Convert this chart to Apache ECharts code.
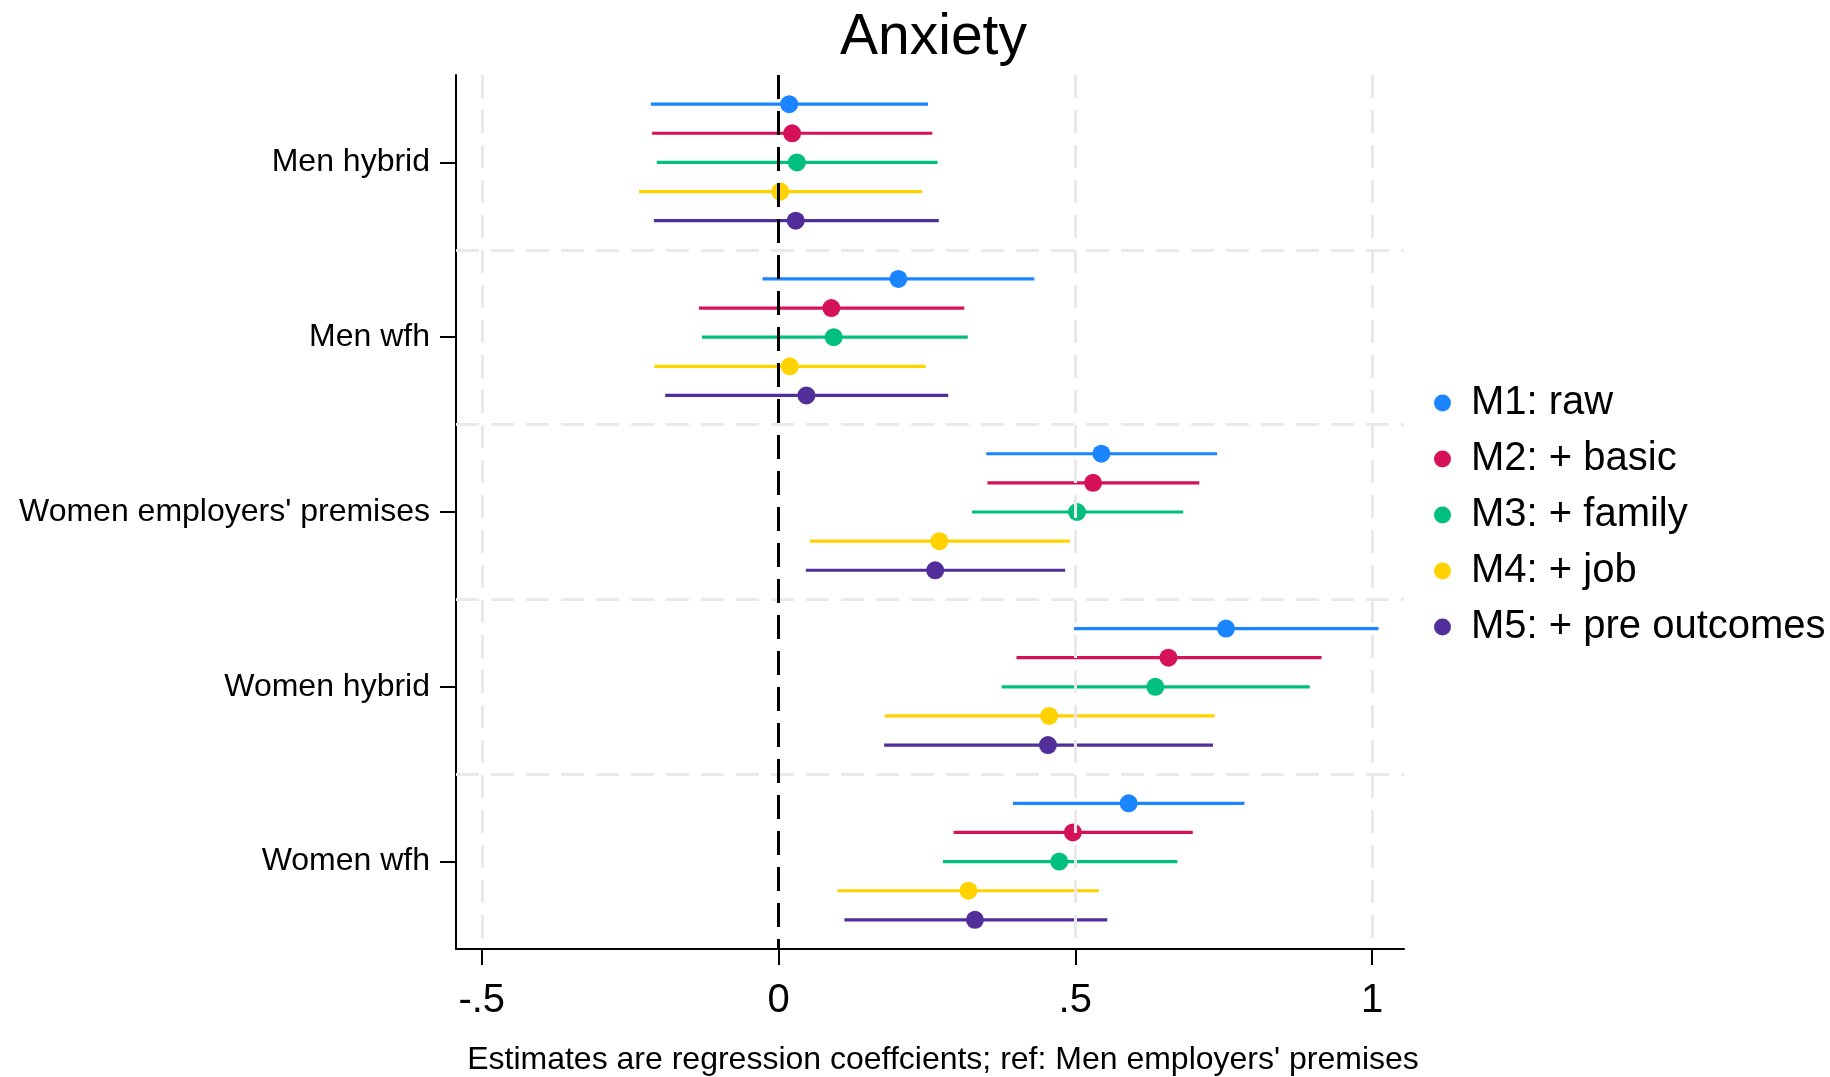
<!DOCTYPE html>
<html><head><meta charset="utf-8">
<script src="https://cdn.jsdelivr.net/npm/echarts@6/dist/echarts.min.js"></script>
<style>html,body{margin:0;padding:0;background:#fff}#c{width:1830px;height:1077px}</style>
</head><body><div id="c"></div>
<script>
const categories = ["Men hybrid", "Men wfh", "Women employers' premises", "Women hybrid", "Women wfh"];
const models = ["M1: raw", "M2: + basic", "M3: + family", "M4: + job", "M5: + pre outcomes"];
const modelColors = ["#1a85ff", "#d41159", "#00bf7f", "#ffd200", "#512e9a"];

// point estimates and 95% CI bounds, one entry per category (in categories order)
const m1Est = [0.018, 0.202, 0.544, 0.754, 0.590];
const m1Lo  = [-0.215, -0.027, 0.350, 0.498, 0.395];
const m1Hi  = [0.252, 0.431, 0.739, 1.011, 0.785];

const m2Est = [0.023, 0.089, 0.530, 0.657, 0.496];
const m2Lo  = [-0.213, -0.134, 0.352, 0.401, 0.295];
const m2Hi  = [0.259, 0.313, 0.709, 0.915, 0.698];

const m3Est = [0.031, 0.093, 0.503, 0.635, 0.473];
const m3Lo  = [-0.205, -0.129, 0.326, 0.376, 0.277];
const m3Hi  = [0.268, 0.319, 0.682, 0.895, 0.672];

const m4Est = [0.003, 0.019, 0.271, 0.456, 0.320];
const m4Lo  = [-0.235, -0.209, 0.053, 0.179, 0.099];
const m4Hi  = [0.242, 0.248, 0.491, 0.735, 0.540];

const m5Est = [0.029, 0.047, 0.264, 0.454, 0.331];
const m5Lo  = [-0.210, -0.191, 0.046, 0.178, 0.111];
const m5Hi  = [0.270, 0.286, 0.483, 0.732, 0.554];

const xTicks = [-0.5, 0, 0.5, 1];
const xTickLabels = ["-.5", "0", ".5", "1"];
const xGridLines = [-0.5, 0.5, 1];
const xAxisTitle = "Estimates are regression coeffcients; ref: Men employers' premises";
const chartTitle = "Anxiety";

const estAll = [m1Est, m2Est, m3Est, m4Est, m5Est];
const loAll = [m1Lo, m2Lo, m3Lo, m4Lo, m5Lo];
const hiAll = [m1Hi, m2Hi, m3Hi, m4Hi, m5Hi];

// row layout: each category block has 6 slots, models sit at slot 1..5
const rowOf = (g, m) => g * 6 + 1 + m;
const catPos = categories.map((c, g) => g * 6 + 3);
const sepPos = [6, 12, 18, 24];

const FONT = "'Liberation Sans', Arial, sans-serif";
const chart = echarts.init(document.getElementById('c'), null, {renderer: 'canvas'});

const series = [];
// gridlines
series.push({
  type: 'line', data: [], silent: true, z: 0,
  markLine: {
    silent: true, symbol: 'none', label: {show: false}, animation: false,
    lineStyle: {color: '#e9e9e9', width: 3, type: [23, 12]},
    data: xGridLines.map(v => ({xAxis: v})).concat(sepPos.map(v => ({yAxis: v})))
  }
});
// CI lines
models.forEach((name, m) => {
  series.push({
    type: 'custom', name: name, z: 1, silent: true,
    encode: {x: [0, 1], y: 2},
    data: categories.map((c, g) => [loAll[m][g], hiAll[m][g], rowOf(g, m)]),
    itemStyle: {color: modelColors[m]},
    renderItem: function (params, api) {
      const a = api.coord([api.value(0), api.value(2)]);
      const b = api.coord([api.value(1), api.value(2)]);
      return {type: 'line', shape: {x1: a[0], y1: a[1], x2: b[0], y2: b[1]},
              style: {stroke: modelColors[m], lineWidth: 3.2}};
    }
  });
});
// zero reference line
series.push({
  type: 'line', data: [], silent: true, z: 2,
  markLine: {
    silent: true, symbol: 'none', label: {show: false}, animation: false,
    lineStyle: {color: '#000', width: 3, type: [24, 12]},
    data: [{xAxis: 0}]
  }
});
// point estimates
models.forEach((name, m) => {
  series.push({
    type: 'scatter', name: name, z: 3,
    symbol: 'circle', symbolSize: 18,
    itemStyle: {color: modelColors[m], opacity: 1},
    data: categories.map((c, g) => [estAll[m][g], rowOf(g, m)])
  });
});

chart.setOption({
  animation: false,
  backgroundColor: '#fff',
  textStyle: {fontFamily: FONT},
  title: {
    text: chartTitle, left: 835, top: 5,
    textStyle: {fontSize: 57, fontWeight: 'normal', color: '#000', fontFamily: FONT}
  },
  legend: {
    orient: 'vertical', left: 1429, top: 378,
    itemWidth: 17, itemHeight: 17, itemGap: 16,
    data: models.map(n => ({name: n, icon: 'circle'})),
    textStyle: {fontSize: 40, lineHeight: 40, color: '#000', fontFamily: FONT, padding: [0, 0, 0, 15]}
  },
  grid: {left: 456, right: 426, top: 75, bottom: 128, containLabel: false, outerBoundsMode: 'none'},
  xAxis: {
    type: 'value', min: -0.5434, max: 1.0539,
    axisLine: {show: true, onZero: false, lineStyle: {color: '#000', width: 2}},
    axisTick: {show: true, customValues: xTicks, length: 16, lineStyle: {color: '#000', width: 2}},
    axisLabel: {
      customValues: xTicks, margin: 32, fontSize: 40, color: '#000', fontFamily: FONT,
      formatter: v => { const i = xTicks.findIndex(t => Math.abs(t - v) < 1e-9); return i >= 0 ? xTickLabels[i] : ''; }
    },
    splitLine: {show: false},
    name: xAxisTitle, nameLocation: 'middle', nameGap: 95,
    nameTextStyle: {fontSize: 32, color: '#000', fontFamily: FONT, padding: [0, 0, 0, 26]}
  },
  yAxis: {
    type: 'value', min: 0, max: 30, inverse: true,
    axisLine: {show: true, onZero: false, lineStyle: {color: '#000', width: 2}},
    axisTick: {show: true, customValues: catPos, length: 16, lineStyle: {color: '#000', width: 2}},
    axisLabel: {
      customValues: catPos, margin: 26, fontSize: 32, color: '#000', fontFamily: FONT,
      padding: [5, 0, 0, 0],
      formatter: v => { const i = catPos.indexOf(Math.round(v)); return i >= 0 ? categories[i] : ''; }
    },
    splitLine: {show: false}
  },
  series: series
});
</script>
</body></html>
